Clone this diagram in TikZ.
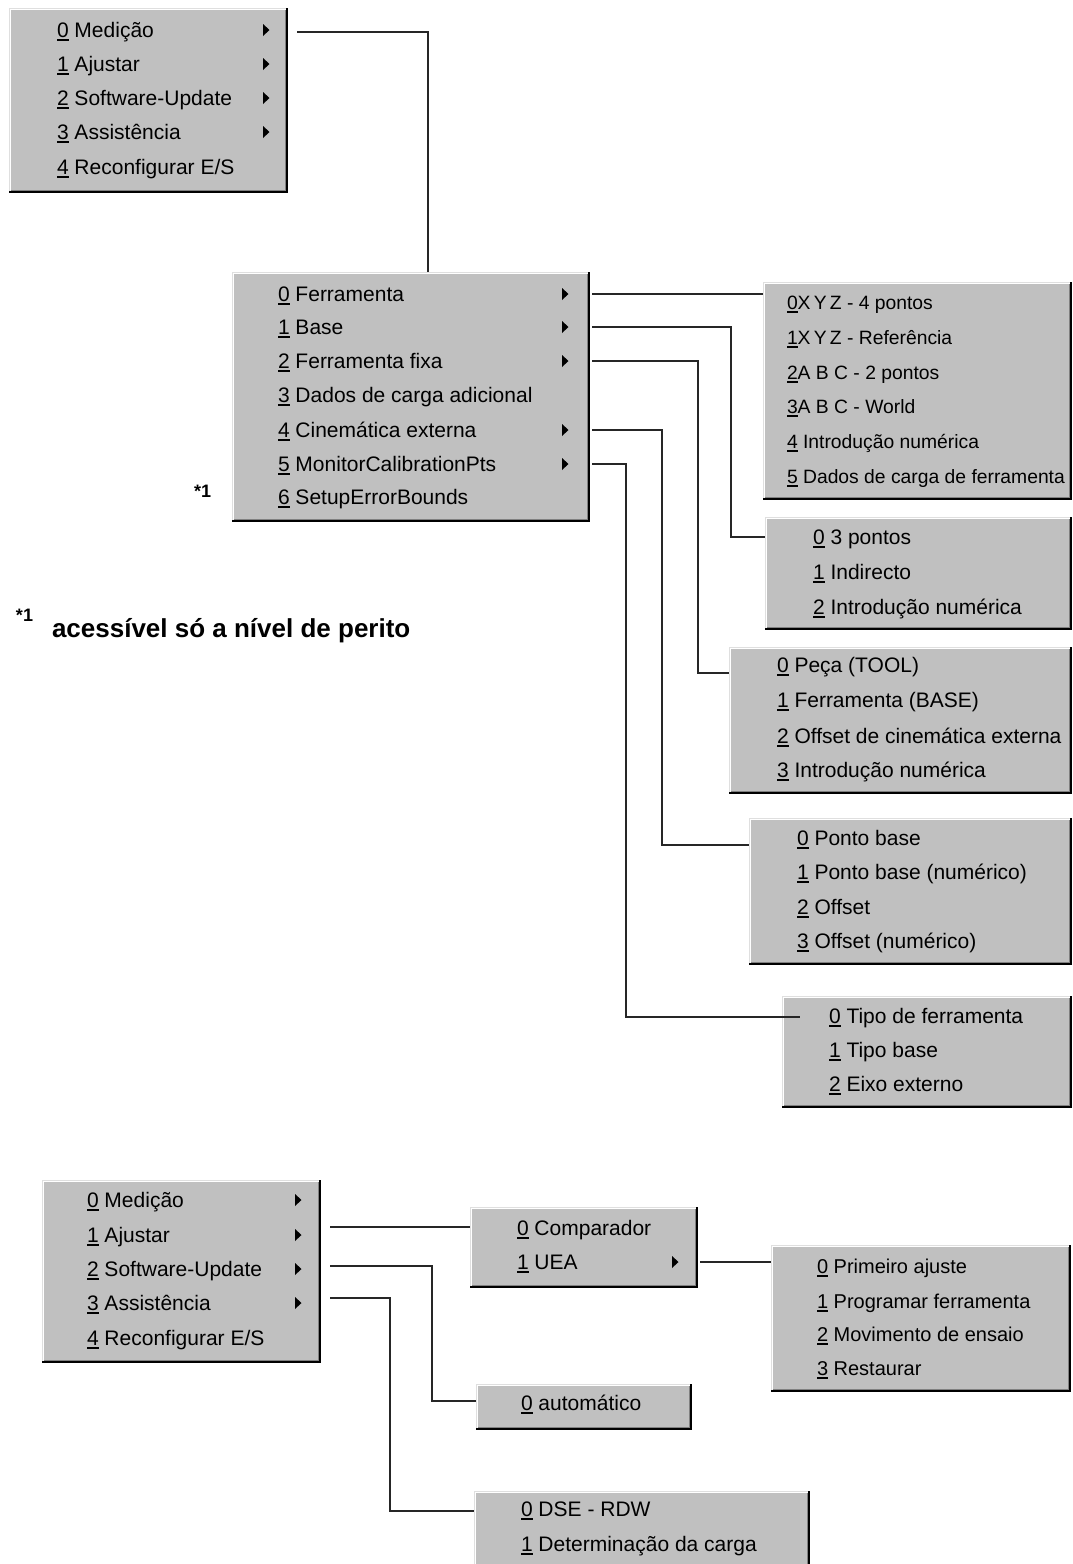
\documentclass[tikz,border=0pt]{standalone}
\usepackage{fontspec}
\setmainfont{Liberation Sans}
\usetikzlibrary{calc}
\definecolor{wingray}{RGB}{192,192,192}
\definecolor{winlight}{RGB}{223,223,223}
\definecolor{windark}{RGB}{128,128,128}
\newcommand\mnul[1]{\setbox0=\hbox{#1}\rlap{\rule[-4pt]{\wd0}{1.6pt}}\box0\relax}
\tikzset{
  mbox/.style={fill=wingray, draw=none, inner sep=0pt, outer sep=0pt, anchor=north west},
  mtext/.style={inner sep=0pt, outer sep=0pt, anchor=base west, font=\fontsize{21}{21}\selectfont},
  ctext/.style={mtext, font=\fontsize{19.3}{19.3}\selectfont},
  ltext/.style={mtext, font=\fontsize{20}{20}\selectfont},
  conn/.style={draw=black!85, line width=1.3pt},
  subarr/.style={fill=black},
  notetext/.style={inner sep=0pt, outer sep=0pt, anchor=base west, font=\bfseries\fontsize{#1}{#1}\selectfont},
}
\newcommand\mkbox[5]{%
  \node[mbox, minimum width={#4-#2}, minimum height={#5-#3}] (#1) at (#2,#3) {};
  \draw[winlight, line width=1pt] ([shift={(0.5pt,0.5pt)}]#1.south west) |- ([shift={(-0.5pt,-0.5pt)}]#1.north east);
  \draw[white, line width=1pt] ([shift={(1.5pt,2.5pt)}]#1.south west) |- ([shift={(-2.5pt,-1.5pt)}]#1.north east);
  \draw[black, line width=2pt] ([shift={(0pt,1pt)}]#1.south west) -| ([shift={(-1pt,0pt)}]#1.north east);
  \draw[windark, line width=1pt] ([shift={(1.5pt,2.5pt)}]#1.south west) -| ([shift={(-2.5pt,-1.5pt)}]#1.north east);
}
\newcommand\mrow[6][mtext]{\node[#1] (#2) at (#3,#4+7) {\mnul{#5} #6};}
\newcommand\mrowc[5]{\node[ctext] (#1) at (#2,#3+7) {\mnul{#4}#5};}
\newcommand\subarrow[2]{\fill[subarr] (#1,#2-6) -- (#1+6.5,#2) -- (#1,#2+6) -- cycle;}
\begin{document}
\begin{tikzpicture}[x=1pt,y=-1pt]
\useasboundingbox (0,0) rectangle (1072,1564);
\fill[white] (0,0) rectangle (1072,1564);

% ---------- top main menu ----------
\mkbox{A}{9}{8}{288}{193}
\mrow{a0}{57}{30}{0}{Medição}
\mrow{a1}{57}{64}{1}{Ajustar}
\mrow{a2}{57}{98}{2}{Software-Update}
\mrow{a3}{57}{132}{3}{Assistência}
\mrow{a4}{57}{167}{4}{Reconfigurar E/S}
\subarrow{263}{30}\subarrow{263}{64}\subarrow{263}{98}\subarrow{263}{132}

% ---------- Ajustar submenu ----------
\mkbox{B}{232}{272}{590}{522}
\mrow{b0}{278}{294}{0}{Ferramenta}
\mrow{b1}{278}{327}{1}{Base}
\mrow{b2}{278}{361}{2}{Ferramenta fixa}
\mrow{b3}{278}{395}{3}{Dados de carga adicional}
\mrow{b4}{278}{430}{4}{Cinemática externa}
\mrow{b5}{278}{464}{5}{MonitorCalibrationPts}
\mrow{b6}{278}{497}{6}{SetupErrorBounds}
\subarrow{562}{294}\subarrow{562}{327}\subarrow{562}{361}\subarrow{562}{430}\subarrow{562}{464}

\node[notetext=18] (star1) at (194,497) {*1};

% ---------- Ferramenta ----------
\mkbox{C}{763}{282}{1072}{500}
\mrowc{c0}{787}{302}{0}{X\,Y\,Z - 4 pontos}
\mrowc{c1}{787}{337}{1}{X\,Y\,Z - Referência}
\mrowc{c2}{787}{372}{2}{A B C - 2 pontos}
\mrowc{c3}{787}{406}{3}{A B C - World}
\mrowc{c4}{787}{441}{4}{ Introdução numérica}
\mrowc{c5}{787}{476}{5}{ Dados de carga de ferramenta}

% ---------- Base ----------
\mkbox{D}{765}{517}{1072}{630}
\mrow{d0}{813}{537}{0}{3 pontos}
\mrow{d1}{813}{572}{1}{Indirecto}
\mrow{d2}{813}{607}{2}{Introdução numérica}

% ---------- Ferramenta fixa ----------
\mkbox{E}{729}{647}{1072}{794}
\mrow{e0}{777}{665}{0}{Peça (TOOL)}
\mrow{e1}{777}{700}{1}{Ferramenta (BASE)}
\mrow{e2}{777}{736}{2}{Offset de cinemática externa}
\mrow{e3}{777}{770}{3}{Introdução numérica}

% ---------- Cinematica externa ----------
\mkbox{F}{749}{818}{1072}{965}
\mrow{f0}{797}{838}{0}{Ponto base}
\mrow{f1}{797}{872}{1}{Ponto base (numérico)}
\mrow{f2}{797}{907}{2}{Offset}
\mrow{f3}{797}{941}{3}{Offset (numérico)}

% ---------- MonitorCalibrationPts ----------
\mkbox{G}{782}{996}{1072}{1108}
\mrow{g0}{829}{1016}{0}{Tipo de ferramenta}
\mrow{g1}{829}{1050}{1}{Tipo base}
\mrow{g2}{829}{1084}{2}{Eixo externo}

% ---------- connectors (top) ----------
\coordinate (a0s) at (297,32);
\draw[conn] (a0s) -| ([xshift=17pt]B.north);
\coordinate (b0s) at (592,294);
\draw[conn] (b0s) -- (C.west |- b0s);
\coordinate (b1s) at (592,327); \coordinate (b1c) at (731,537);
\draw[conn] (b1s) -| (b1c) -- (D.west |- b1c);
\coordinate (b2s) at (592,361); \coordinate (b2c) at (698,673);
\draw[conn] (b2s) -| (b2c) -- (E.west |- b2c);
\coordinate (b4s) at (592,430); \coordinate (b4c) at (662,845);
\draw[conn] (b4s) -| (b4c) -- (F.west |- b4c);
\coordinate (b5s) at (592,464); \coordinate (b5c) at (626,1017);
\draw[conn] (b5s) -| (b5c) -- ($(G.west |- b5c)+(18,0)$);

% ---------- footnote ----------
\node[notetext=18] (fnmark) at (16,621) {*1};
\node[notetext=26] (fntext) at (52,637) {acessível só a nível de perito};

% ---------- bottom main menu ----------
\mkbox{H}{42}{1180}{321}{1363}
\mrow{h0}{87}{1200}{0}{Medição}
\mrow{h1}{87}{1235}{1}{Ajustar}
\mrow{h2}{87}{1269}{2}{Software-Update}
\mrow{h3}{87}{1303}{3}{Assistência}
\mrow{h4}{87}{1338}{4}{Reconfigurar E/S}
\subarrow{295}{1200}\subarrow{295}{1235}\subarrow{295}{1269}\subarrow{295}{1303}

% ---------- Software-Update submenu ----------
\mkbox{I}{470}{1207}{698}{1288}
\mrow{i0}{517}{1228}{0}{Comparador}
\mrow{i1}{517}{1262}{1}{UEA}
\subarrow{672}{1262}

% ---------- UEA submenu ----------
\mkbox{L}{771}{1245}{1071}{1392}
\mrow[ltext]{l0}{817}{1266}{0}{Primeiro ajuste}
\mrow[ltext]{l1}{817}{1301}{1}{Programar ferramenta}
\mrow[ltext]{l2}{817}{1334}{2}{Movimento de ensaio}
\mrow[ltext]{l3}{817}{1368}{3}{Restaurar}

% ---------- automatico ----------
\mkbox{J}{476}{1384}{692}{1430}
\mrow{j0}{521}{1403}{0}{automático}

% ---------- Assistencia ----------
\mkbox{K}{474}{1491}{810}{1580}
\mrow{k0}{521}{1509}{0}{DSE - RDW}
\mrow{k1}{521}{1544}{1}{Determinação da carga}

% ---------- connectors (bottom) ----------
\coordinate (h1s) at (330,1227);
\draw[conn] (h1s) -- (I.west |- h1s);
\coordinate (h2s) at (330,1266); \coordinate (h2c) at (432,1401);
\draw[conn] (h2s) -| (h2c) -- (J.west |- h2c);
\coordinate (h3s) at (330,1298); \coordinate (h3c) at (390,1511);
\draw[conn] (h3s) -| (h3c) -- (K.west |- h3c);
\coordinate (i1s) at (700,1262);
\draw[conn] (i1s) -- (L.west |- i1s);
\end{tikzpicture}
\end{document}
